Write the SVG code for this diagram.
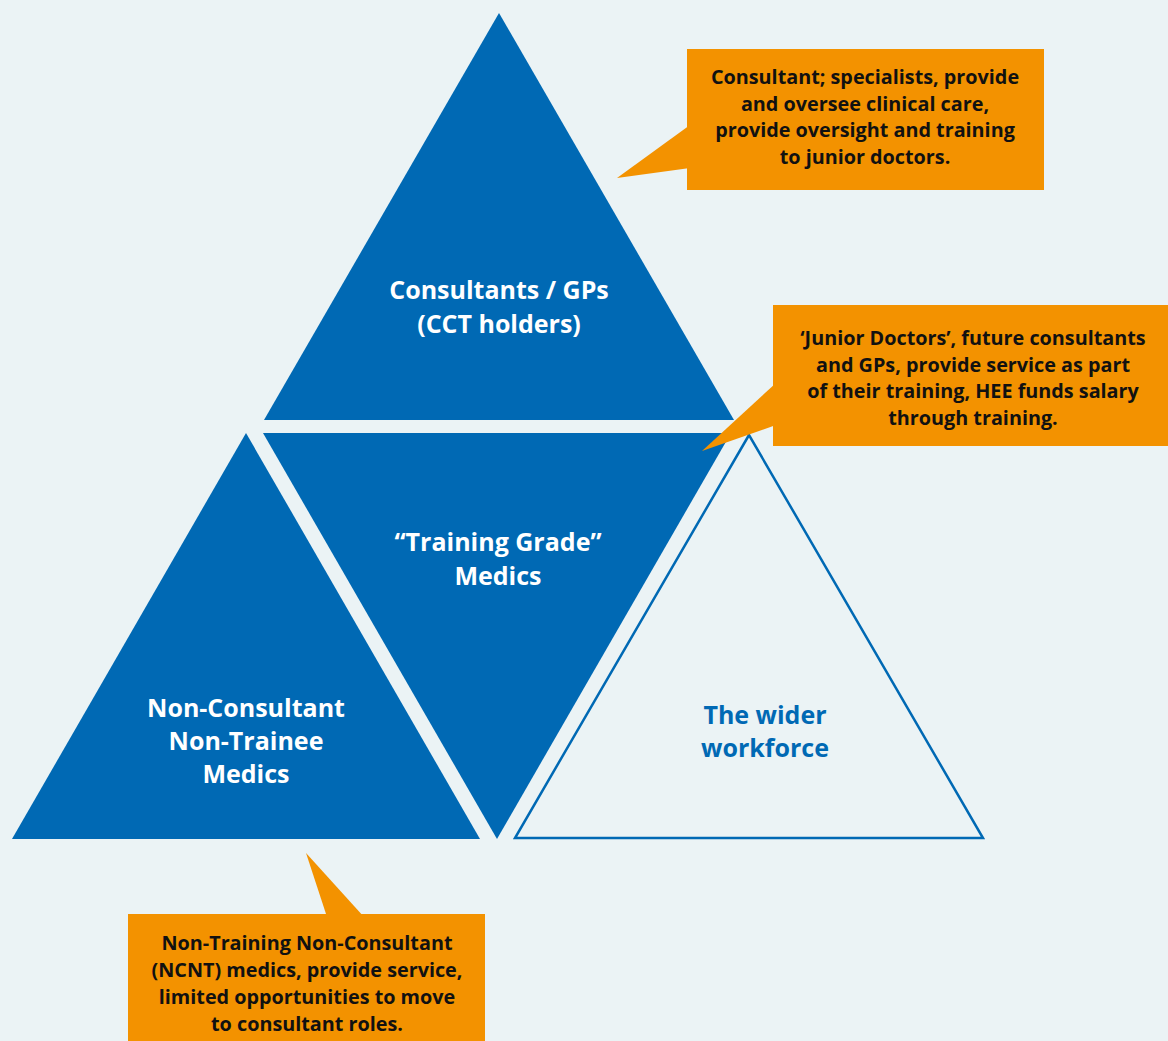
<svg xmlns="http://www.w3.org/2000/svg" width="1168" height="1041" viewBox="0 0 1168 1041">
<style>
.tri{fill:#0069B4;}
.out{fill:none;stroke:#0069B4;stroke-width:2.5;}
.call{fill:#F39200;}
.lbl{font-family:"Open Sans","Noto Sans","DejaVu Sans",sans-serif;font-weight:bold;font-size:25px;fill:#ffffff;text-anchor:middle;}
.lblb{fill:#0069B4;}
.ct{font-family:"Open Sans","Noto Sans","DejaVu Sans",sans-serif;font-weight:bold;font-size:19.8px;fill:#111111;text-anchor:middle;}
</style>
<rect x="0" y="0" width="1168" height="1041" fill="#EBF3F5"/>
<g id="consultants">
<polygon class="tri" points="499,13 264,420 734,420"/>
<text class="lbl" x="499" y="299">Consultants / GPs</text>
<text class="lbl" x="499" y="333">(CCT holders)</text>
</g>
<g id="training">
<polygon class="tri" points="263,433 731,433 497,839"/>
<text class="lbl" x="498" y="551">“Training Grade”</text>
<text class="lbl" x="498" y="585">Medics</text>
</g>
<g id="ncnt">
<polygon class="tri" points="246,433 12,839 480,839"/>
<text class="lbl" x="246" y="717">Non-Consultant</text>
<text class="lbl" x="246" y="750">Non-Trainee</text>
<text class="lbl" x="246" y="783">Medics</text>
</g>
<g id="wider">
<polygon class="out" points="749,435 515,838 983,838"/>
<text class="lbl lblb" x="765" y="724">The wider</text>
<text class="lbl lblb" x="765" y="757">workforce</text>
</g>
<g id="connectors">
<polygon class="call" points="617,178 690,125 690,168"/>
<polygon class="call" points="702,451 776,383 776,425"/>
<polygon class="call" points="306,853 327,917 364,917"/>
</g>
<g id="callout-consultant">
<rect class="call" x="687" y="49" width="357" height="141"/>
<text class="ct" x="865" y="84">Consultant; specialists, provide</text>
<text class="ct" x="865" y="111">and oversee clinical care,</text>
<text class="ct" x="865" y="137">provide oversight and training</text>
<text class="ct" x="865" y="164">to junior doctors.</text>
</g>
<g id="callout-junior">
<rect class="call" x="773" y="305" width="395" height="141"/>
<text class="ct" x="973" y="345">‘Junior Doctors’, future consultants</text>
<text class="ct" x="973" y="372">and GPs, provide service as part</text>
<text class="ct" x="973" y="398">of their training, HEE funds salary</text>
<text class="ct" x="973" y="425">through training.</text>
</g>
<g id="callout-ncnt">
<rect class="call" x="128" y="914" width="357" height="127"/>
<text class="ct" x="307" y="950">Non-Training Non-Consultant</text>
<text class="ct" x="307" y="977">(NCNT) medics, provide service,</text>
<text class="ct" x="307" y="1004">limited opportunities to move</text>
<text class="ct" x="307" y="1031">to consultant roles.</text>
</g>
</svg>
